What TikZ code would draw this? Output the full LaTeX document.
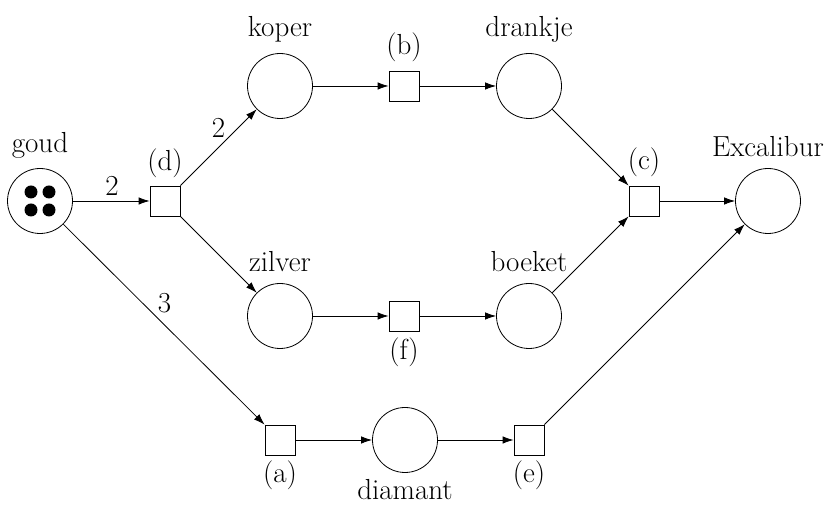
\documentclass[tikz,border=0pt]{standalone}
\usetikzlibrary{positioning}
\usetikzlibrary{arrows.meta}

\begin{document}
\begin{tikzpicture}[%
  >={Latex[length=11pt,width=7.5pt]},
  x=1pt, y=1pt,
  line width=0.8pt,
  every node/.style={font=\fontsize{29}{33}\selectfont},
  place/.style={circle, draw, minimum size=65pt, inner sep=0pt},
  transition/.style={rectangle, draw, minimum size=30pt, inner sep=0pt},
  token/.style={circle, fill, minimum size=13pt, inner sep=0pt},
  lbl/.style={inner sep=0pt, anchor=base},
  weight/.style={inner sep=0pt},
]

  \useasboundingbox (0,0) rectangle (825,505);

  \node[place] (goud) at (40,304) {};
  \node[place] (koper) at (280,419) {};
  \node[place] (drankje) at (529,419) {};
  \node[place] (zilver) at (280,189) {};
  \node[place] (boeket) at (529,189) {};
  \node[place] (diamant) at (405,65) {};
  \node[place] (excalibur) at (768,304) {};

  \node[transition] (td) at (165,304) {};
  \node[transition] (tb) at (404,419) {};
  \node[transition] (tc) at (644,304) {};
  \node[transition] (tf) at (404,189) {};
  \node[transition] (ta) at (280,65) {};
  \node[transition] (te) at (529,65) {};

  \node[token] (g1) at (31,313) {};
  \node[token] (g2) at (49,313) {};
  \node[token] (g3) at (31,295) {};
  \node[token] (g4) at (49,295) {};

  \node[lbl, above=48pt of goud.center, anchor=base] (goudtxt) {goud};
  \node[lbl, above=49pt of koper.center, anchor=base] (kopertxt) {koper};
  \node[lbl, above=49pt of drankje.center, anchor=base] (drankjetxt) {drankje};
  \node[lbl, above=44pt of zilver.center, anchor=base] (zilvertxt) {zilver};
  \node[lbl, above=44pt of boeket.center, anchor=base] (boekettxt) {boeket};
  \node[lbl, above=44pt of excalibur.center, anchor=base] (excaliburtxt) {Excalibur};
  \node[lbl, below=60pt of diamant.center, anchor=base] (diamanttxt) {diamant};

  \node[lbl, above=30pt of td.center, anchor=base] (tdtxt) {(d)};
  \node[lbl, above=31pt of tb.center, anchor=base] (tbtxt) {(b)};
  \node[lbl, above=31pt of tc.center, anchor=base] (tctxt) {(c)};
  \node[lbl, below=44pt of tf.center, anchor=base] (tftxt) {(f)};
  \node[lbl, below=43pt of ta.center, anchor=base] (tatxt) {(a)};
  \node[lbl, below=43pt of te.center, anchor=base] (tetxt) {(e)};

  \draw[->] (goud) -- (td);
  \draw[->] (td) -- (koper);
  \draw[->] (td) -- (zilver);
  \draw[->] (goud) -- (ta);
  \draw[->] (koper) -- (tb);
  \draw[->] (tb) -- (drankje);
  \draw[->] (zilver) -- (tf);
  \draw[->] (tf) -- (boeket);
  \draw[->] (drankje) -- (tc);
  \draw[->] (boeket) -- (tc);
  \draw[->] (tc) -- (excalibur);
  \draw[->] (ta) -- (diamant);
  \draw[->] (diamant) -- (te);
  \draw[->] (te) -- (excalibur);

  \node[weight] (w1) at (112,319) {2};
  \node[weight] (w2) at (218.5,377.5) {2};
  \node[weight] (w3) at (164.5,201.5) {3};

\end{tikzpicture}
\end{document}
